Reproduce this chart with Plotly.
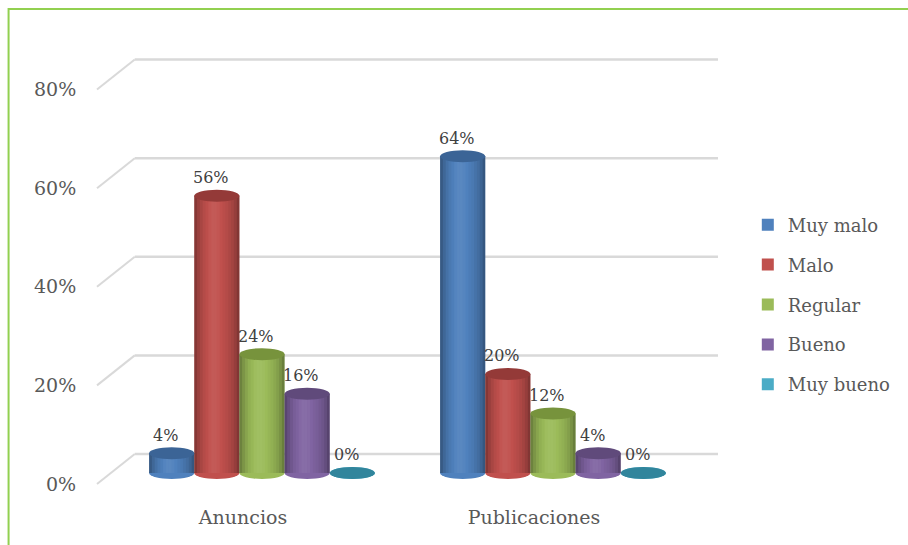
import plotly.graph_objects as go

# ---------------- data ----------------
categories = ["Anuncios", "Publicaciones"]
series_names = ["Muy malo", "Malo", "Regular", "Bueno", "Muy bueno"]
muy_malo = [4, 64]
malo = [56, 20]
regular = [24, 12]
bueno = [16, 4]
muy_bueno = [0, 0]
series_values = [muy_malo, malo, regular, bueno, muy_bueno]
y_ticks = [0, 20, 40, 60, 80]
y_tick_labels = ["0%", "20%", "40%", "60%", "80%"]

# ---------------- style ----------------
colors = ["#4f81bd", "#c0504d", "#9bbb59", "#8064a2", "#4bacc6"]
top_colors = ["#3b6496", "#943a38", "#77933c", "#604a7b", "#31859c"]
FONT = "DejaVu Serif"
bargap = 0.224
n = len(series_names)
w = (1 - bargap) / n

fig = go.Figure()
for name, vals, c, tc in zip(series_names, series_values, colors, top_colors):
    fig.add_trace(go.Bar(
        name=name, x=categories, y=vals, yaxis="y",
        marker=dict(color=c, line=dict(width=0)),
        legendgroup=name, hoverinfo="skip",
    ))

shapes = []
annotations = []

# perspective gridlines (front diagonal + back horizontal), tied to tick axis y2
for t in y_ticks:
    shapes.append(dict(type="line", layer="below", xref="paper", yref="y2",
                       ysizemode="pixel", yanchor=t, x0=0, x1=38 / 625, y0=0, y1=30,
                       line=dict(color="#d9d9d9", width=2)))
    shapes.append(dict(type="line", layer="below", xref="paper", yref="y2",
                       ysizemode="pixel", yanchor=t, x0=38 / 625, x1=1.0, y0=30, y1=30,
                       line=dict(color="#d9d9d9", width=2.5)))

# cylinder shading: overlay alpha per vertical slice (negative = darken, positive = lighten)
shade = [-0.30, -0.20, -0.12, -0.06, -0.02, 0.03, 0.06, 0.06, 0.04, 0.0,
         -0.03, -0.06, -0.10, -0.15, -0.22, -0.32]
ns = len(shade)

for k, (vals, c, tc) in enumerate(zip(series_values, colors, top_colors)):
    for i, v in enumerate(vals):
        cx = i + (k - (n - 1) / 2) * w
        left = cx - w / 2
        shapes.append(dict(type="circle", layer="below", xref="x", yref="y",
                           ysizemode="pixel", yanchor=0, y0=-6, y1=6,
                           x0=left, x1=left + w,
                           fillcolor=c, line=dict(width=0)))
        if v > 0:
            for s, a in enumerate(shade):
                col = f"rgba(0,0,0,{-a})" if a < 0 else f"rgba(255,255,255,{a})"
                shapes.append(dict(type="rect", layer="above", xref="x", yref="y",
                                   x0=left + s * w / ns, x1=left + (s + 1) * w / ns,
                                   y0=0, y1=v, fillcolor=col, line=dict(width=0)))
        shapes.append(dict(type="circle", layer="above", xref="x", yref="y",
                           ysizemode="pixel", yanchor=v, y0=-6, y1=6,
                           x0=left, x1=left + w,
                           fillcolor=tc, line=dict(width=0)))
        annotations.append(dict(x=cx, y=v, xref="x", yref="y", text=f"{v}%",
                                showarrow=False, yshift=18, xshift=-6,
                                font=dict(family=FONT, size=16, color="#404040")))

# outer green border
shapes.append(dict(type="rect", xref="paper", yref="paper",
                   x0=(8 - 97) / 625, x1=2, y0=-1, y1=(500 - 9) / 460,
                   line=dict(color="#92d050", width=2), fillcolor="rgba(0,0,0,0)"))

fig.update_layout(
    width=908, height=545,
    margin=dict(l=97, r=186, t=40, b=45),
    paper_bgcolor="white", plot_bgcolor="white",
    barmode="group", bargap=bargap, bargroupgap=0,
    xaxis=dict(type="category", range=[-0.567, 1.567], showgrid=False,
               showline=False, zeroline=False, ticks="",
               ticklabelshift=-19, ticklabelstandoff=4,
               tickfont=dict(family=FONT, size=19, color="#595959")),
    yaxis=dict(range=[-5.46, 87.47], visible=False, showgrid=False, zeroline=False),
    yaxis2=dict(range=[-3.25, 90.06], overlaying="y", side="left",
                tickvals=y_ticks, ticktext=y_tick_labels,
                showgrid=False, zeroline=False, showline=False,
                ticks="outside", ticklen=16, tickcolor="rgba(0,0,0,0)",
                tickfont=dict(family=FONT, size=19, color="#595959")),
    legend=dict(x=1.048, y=0.638, xanchor="left", yanchor="top",
                tracegroupgap=13.5, font=dict(family=FONT, size=18, color="#595959"),
                bgcolor="rgba(0,0,0,0)"),
    shapes=shapes, annotations=annotations,
    showlegend=True,
)

fig.write_html("out.html")
